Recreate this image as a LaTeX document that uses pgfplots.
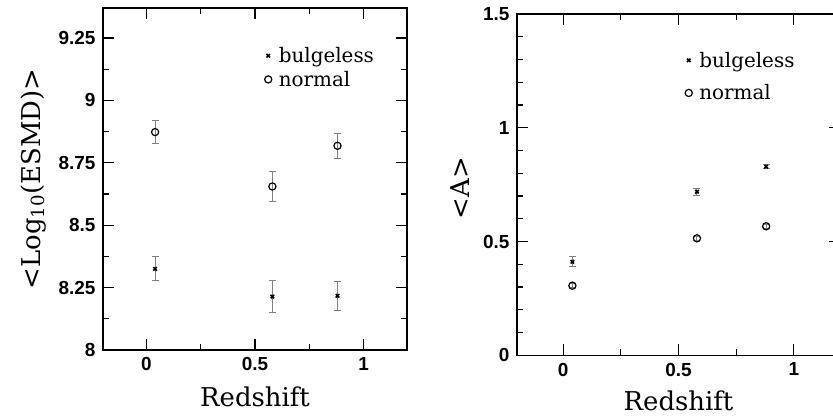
\documentclass[border=0pt]{standalone}
\usepackage{fontspec}
\setmainfont{DejaVu Serif}
\newfontfamily\ticksf{Liberation Sans}
\usepackage{pgfplots}
\pgfplotsset{compat=1.18}
\pgfplotsset{
 myax/.style={
  scale only axis,
  anchor=south west,
  xmin=-0.2, xmax=1.2,
  xtick={0,0.5,1}, minor x tick num=1,
  tick align=inside,
  major tick length=11bp, minor tick length=6bp,
  every tick/.style={black, line width=1.1pt},
  axis line style={line width=1.2pt},
  tick label style={font=\ticksf\bfseries\fontsize{19}{19}\selectfont},
  /pgf/number format/assume math mode=true,
  label style={font=\fontsize{26}{26}\selectfont},
  xticklabel style={yshift=-4bp},
  yticklabel style={xshift=-4bp},
  legend style={draw=none, fill=none, font=\fontsize{20}{20}\selectfont, inner sep=0pt,
    column sep=5bp},
  legend cell align=left,
  error bars/error bar style={gray, line width=1pt},
  error bars/error mark options={rotate=90, mark size=3.5bp, gray, line width=1pt},
 },
 bulge/.style={only marks, black, mark=x, mark size=2.5bp, line width=1.6pt,
   error bars/.cd, y dir=both, y explicit},
 norm/.style={only marks, black, mark=o, mark size=3.6bp, line width=1.2pt,
   error bars/.cd, y dir=both, y explicit},
}
\begin{document}
\begin{tikzpicture}
\useasboundingbox (0,0) rectangle (833bp,-417bp);
\clip (0,0) rectangle (833bp,-417bp);
% left panel
\begin{axis}[myax,
  at={(103bp,-350bp)}, width=304bp, height=342bp,
  ymin=8, ymax=9.37,
  ytick={8,8.25,8.5,8.75,9,9.25}, minor y tick num=1,
  yticklabels={8,8.25,8.5,8.75,9,9.25},
  xlabel={Redshift},
  ylabel={<Log\textsubscript{10}(ESMD)>},
  xlabel style={at={(axis description cs:0.5,-0.137)}, anchor=center},
  ylabel style={at={(axis description cs:-0.23,0.5)}, anchor=center, rotate=0},
  legend style={at={(axis description cs:0.531,0.891)}, anchor=north west, row sep=3bp},
]
\addplot+[bulge] coordinates {
 (0.04,8.325) +- (0,0.048)
 (0.58,8.214) +- (0,0.063)
 (0.88,8.217) +- (0,0.058)
};
\addlegendentry{bulgeless}
\addplot+[norm] coordinates {
 (0.04,8.873) +- (0,0.045)
 (0.58,8.655) +- (0,0.062)
 (0.88,8.818) +- (0,0.050)
};
\addlegendentry{normal}
\end{axis}
% right panel
\begin{axis}[myax,
  at={(517bp,-355.3bp)}, width=323bp, height=341.3bp,
  ymin=0, ymax=1.5,
  ytick={0,0.5,1,1.5}, minor y tick num=4,
  xlabel={Redshift},
  ylabel={<A>},
  xlabel style={at={(axis description cs:0.5,-0.132)}, anchor=center},
  ylabel style={at={(axis description cs:-0.176,0.49)}, anchor=center, rotate=0},
  legend style={at={(axis description cs:0.52,0.895)}, anchor=north west, row sep=12bp},
]
\addplot+[bulge] coordinates {
 (0.04,0.411) +- (0,0.022)
 (0.58,0.719) +- (0,0.015)
 (0.88,0.829) +- (0,0.010)
};
\addlegendentry{bulgeless}
\addplot+[norm] coordinates {
 (0.04,0.306) +- (0,0.008)
 (0.58,0.514) +- (0,0.008)
 (0.88,0.567) +- (0,0.008)
};
\addlegendentry{normal}
\end{axis}
\end{tikzpicture}
\end{document}
